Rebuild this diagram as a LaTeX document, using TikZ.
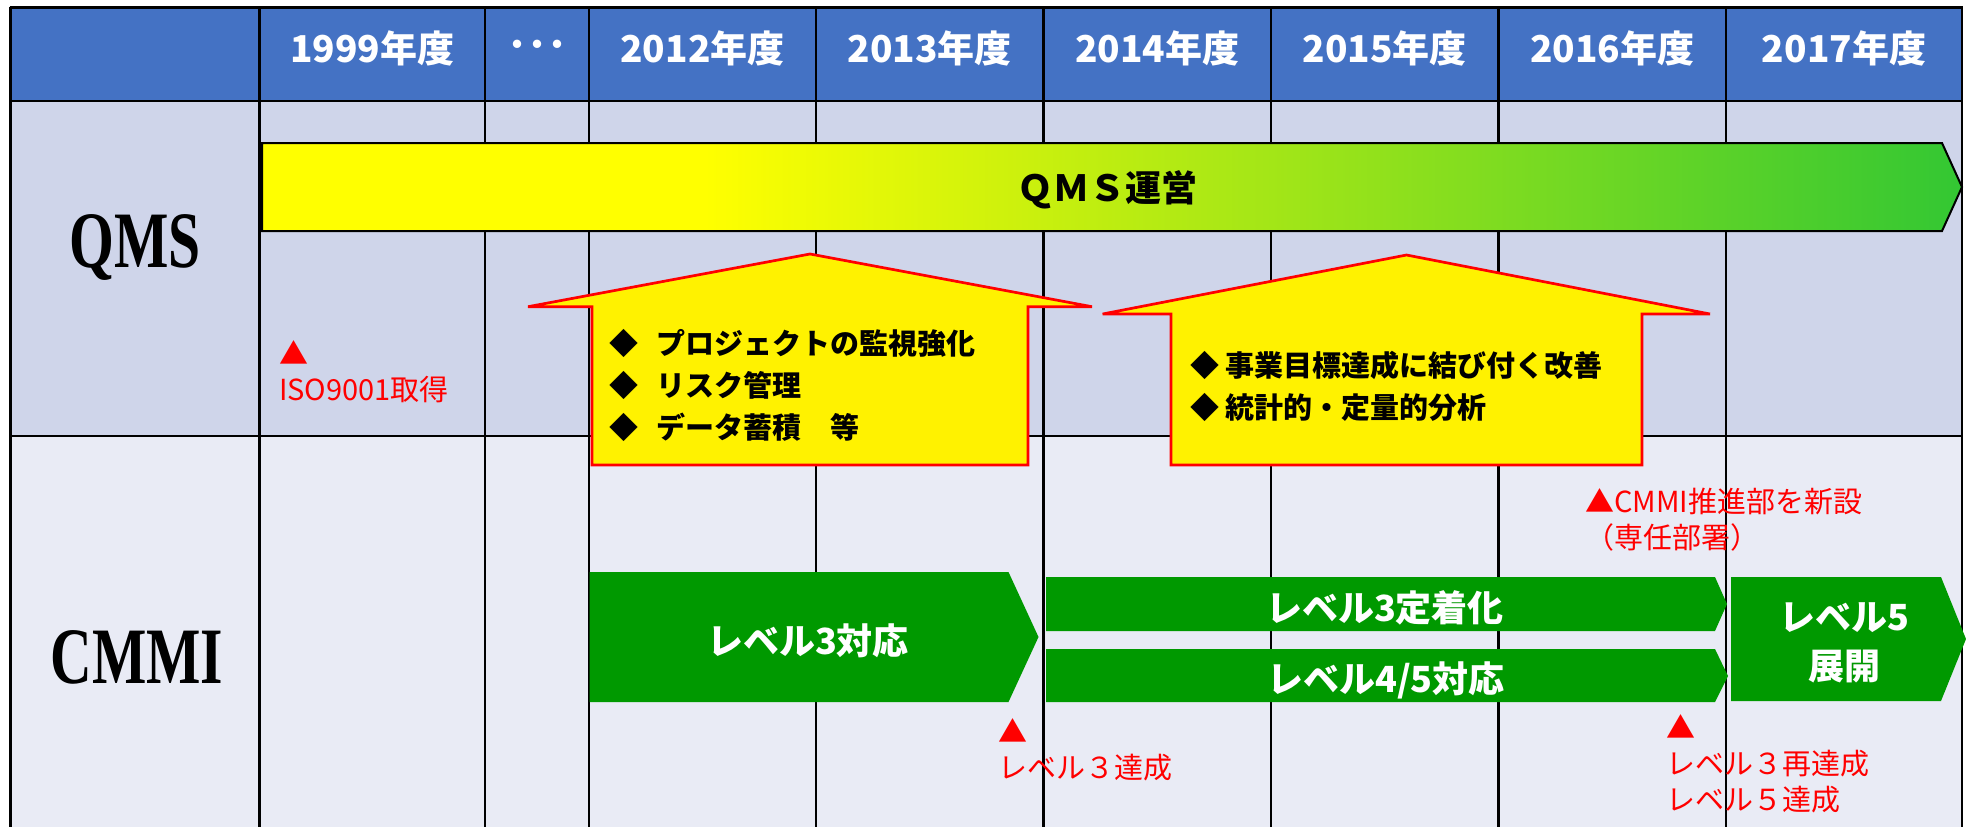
\documentclass[tikz,border=0pt]{standalone}
\usepackage{fontspec}
\setmainfont{Noto Sans CJK JP}
\newfontfamily\rowfont[FakeStretch=0.72]{Liberation Serif}
\usepackage{xcolor}

\definecolor{hdrblue}{HTML}{4472C4}
\definecolor{qmsrow}{HTML}{CFD5EA}
\definecolor{cmmirow}{HTML}{E9EBF5}
\definecolor{lvgreen}{HTML}{009900}
\definecolor{barend}{HTML}{33C733}
\pgfdeclarehorizontalshading{qmsfade}{100bp}{color(0bp)=(yellow); color(38bp)=(yellow); color(75bp)=(barend); color(100bp)=(barend)}

\begin{document}
\begin{tikzpicture}[x=1pt,y=-1pt,
		tblline/.style={line width=2.5pt,black},
		yrtext/.style={text=white,font=\bfseries\fontsize{37}{44}\selectfont,inner sep=0pt,anchor=base},
		rowlbl/.style={font=\rowfont\bfseries\fontsize{80}{90}\selectfont,inner sep=0pt,anchor=base},
		upbox/.style={draw=red,line width=2.7pt,fill=yellow,line join=miter},
		itemtext/.style={font=\bfseries\fontsize{29}{42}\selectfont,align=left,anchor=west,inner sep=0pt},
		lvbox/.style={fill=lvgreen},
		lvtext/.style={text=white,font=\bfseries\fontsize{36}{49}\selectfont,align=center,inner sep=0pt},
		redmark/.style={text=red,font=\fontsize{29}{36}\selectfont,align=left,anchor=west,inner sep=0pt}]
	\useasboundingbox (0,0) rectangle (1966,827);
	\fill[white] (0,0) rectangle (1966,827);
	% rows
	\fill[hdrblue] (10.7,7.3) rectangle (1962,101);
	\fill[qmsrow] (10.7,101) rectangle (1962,436);
	\fill[cmmirow] (10.7,436) rectangle (1962,827);
	% grid
	\foreach \cx in {10.7,259.5,485,589,816,1043.5,1271,1498.5,1726,1962}
		\draw[tblline] (\cx,7.3) -- (\cx,827);
	\foreach \ry in {7.3,101,436}
		\draw[tblline] (9.5,\ry) -- (1963.2,\ry);
	% years
	\foreach \yr/\cx in {1999/372.25,2012/702.5,2013/929.75,2014/1157.25,2015/1384.75,2016/1612.25,2017/1844}
		\node[yrtext] (yr\yr) at (\cx,62) {\yr{}年度};
	\node[text=white,font=\bfseries\fontsize{40}{44}\selectfont,inner sep=0pt] (skip) at (537,50) {･･･};
	% row labels
	\node[rowlbl] (qmslbl) at (135,267) {QMS};
	\node[rowlbl] (cmmilbl) at (137,683) {CMMI};
	% QMS bar
	\draw[line width=2pt,shading=qmsfade] (262,143) -- (1942,143) -- (1962,187) -- (1942,231) -- (262,231) -- cycle;
	\node[font=\bfseries\fontsize{36}{40}\selectfont,inner sep=0pt] (qmsop) at (1107.5,190) {ＱＭＳ運営};
	% improvement arrows
	\draw[upbox] (592,465) -- (592,306.7) -- (528,306.7) -- (810,254) -- (1092,306.7) -- (1028,306.7) -- (1028,465) -- cycle;
	\draw[upbox] (1171,465) -- (1171,314) -- (1102.6,314) -- (1406.5,255) -- (1710,314) -- (1642,314) -- (1642,465) -- cycle;
	\node[itemtext] (items1) at (609,385) {◆\hspace{18pt}プロジェクトの監視強化\\◆\hspace{18pt}リスク管理\\◆\hspace{18pt}データ蓄積　等};
	\node[itemtext] (items2) at (1190,386) {◆ 事業目標達成に結び付く改善\\◆ 統計的・定量的分析};
	% CMMI levels
	\fill[lvbox] (589.5,572) -- (1008.5,572) -- (1038.5,637) -- (1008.5,702) -- (589.5,702) -- cycle;
	\fill[lvbox] (1046,577) -- (1715,577) -- (1727,604) -- (1715,631) -- (1046,631) -- cycle;
	\fill[lvbox] (1046,649) -- (1715,649) -- (1728,676) -- (1715,702) -- (1046,702) -- cycle;
	\fill[lvbox] (1731,577) -- (1941,577) -- (1966,639) -- (1941,701) -- (1731,701) -- cycle;
	\node[lvtext] (lv3) at (808,641) {レベル3対応};
	\node[lvtext] (lv3fix) at (1385,608) {レベル3定着化};
	\node[lvtext] (lv45) at (1386,680) {レベル4/5対応};
	\node[lvtext] (lv5) at (1844,643) {レベル5\\展開};
	% milestones
	\node[redmark] (isomark) at (279,372) {▲\\ISO9001取得};
	\node[redmark] (lv3mark) at (998,750) {▲\\レベル３達成};
	\node[redmark] (deptmark) at (1585,519.5) {▲CMMI推進部を新設\\（専任部署）};
	\node[redmark] (lv5mark) at (1666,763.5) {▲\\レベル３再達成\\レベル５達成};
\end{tikzpicture}
\end{document}
